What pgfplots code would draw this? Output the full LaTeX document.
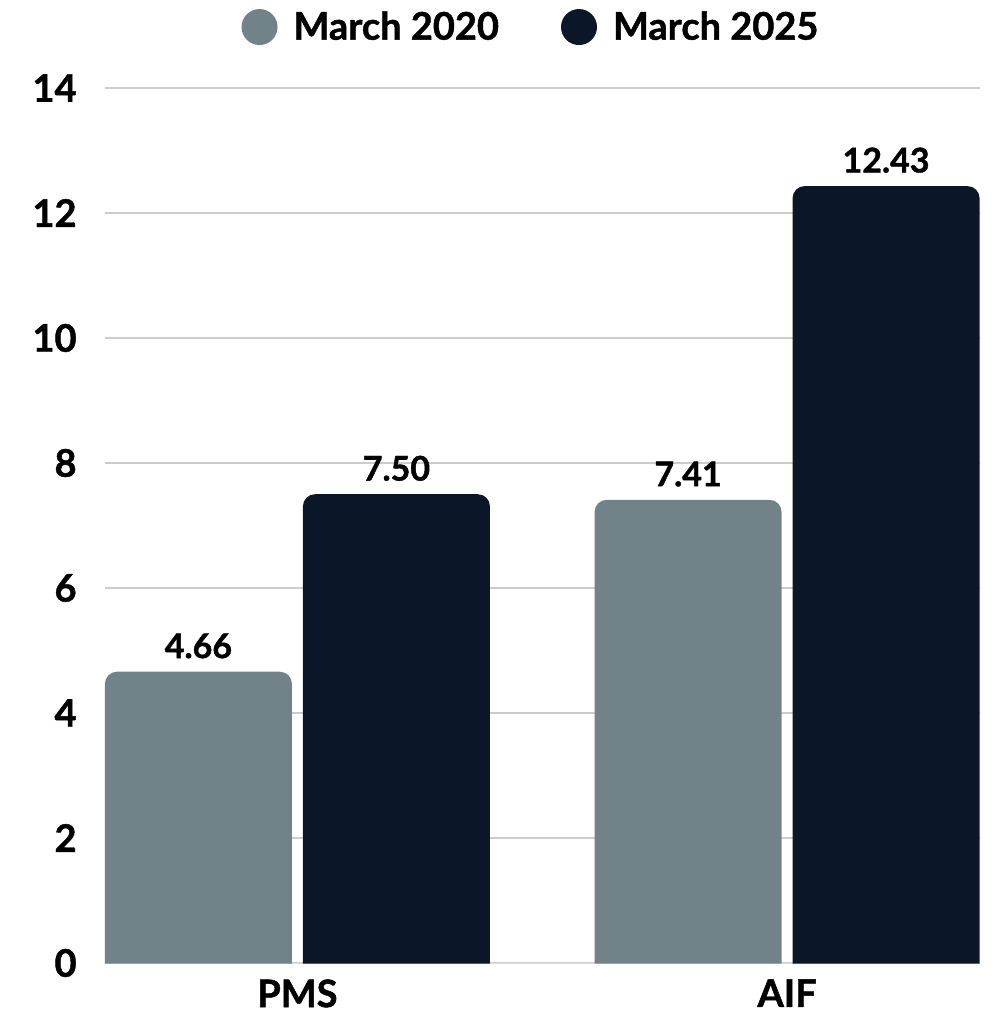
\documentclass[border=0pt]{standalone}
\usepackage{fontspec}
\setmainfont{Lato}[BoldFeatures={FakeBold=1.2}]
\usepackage{pgfplots}
\pgfplotsset{compat=1.18}
\usepackage{pgfplotstable}
\definecolor{cgrey}{HTML}{718389}
\definecolor{cdark}{HTML}{0B1729}
\definecolor{cgrid}{HTML}{CCCCCC}

\pgfplotstableread{
x v lbl
0 4.66 4.66
1 7.41 7.41
}\tmarA
\pgfplotstableread{
x v lbl
0 7.50 7.50
1 12.43 12.43
}\tmarB

\begin{document}
\begin{tikzpicture}
\path[use as bounding box] (-52.5pt,-25.5pt) rectangle (443.5pt,481.5pt);
\clip (-60pt,-0.3pt) rectangle (450pt,490pt)
      (-60pt,-7pt) rectangle (450pt,-30pt)
      (-60pt,-7pt) rectangle (-1pt,-0.3pt);
\begin{axis}[
  at={(0pt,-6.25pt)}, anchor=south west,
  scale only axis, width=437.5pt, height=443.75pt,
  y coord trafo/.code={\pgfmathparse{#1+1}},
  y coord inv trafo/.code={\pgfmathparse{#1-1}},
  xmin=-0.393, xmax=1.394, ymin=-0.2, ymax=14,
  xtick={0,1}, xticklabels={PMS,AIF},
  ytick={0,2,...,14},
  ymajorgrids, grid style={cgrid, line width=0.6pt},
  axis line style={draw=none},
  major tick length=0pt,
  tick label style={font=\fontsize{19}{22}\selectfont\bfseries},
  yticklabel style={anchor=east, inner sep=0pt, xshift=-14pt},
  xticklabel style={anchor=north, inner sep=0pt, yshift=-1.75pt},
  /pgf/number format/assume math mode=true,
  legend style={font=\fontsize{19}{22}\selectfont\bfseries, draw=none, fill=none,
    legend columns=2, at={(0.488,1.0687)}, anchor=center,
    /tikz/every odd column/.append style={column sep=6pt},
    /tikz/every even column/.append style={column sep=29pt}},
  legend cell align=left,
]
\addplot[ybar, bar width=93.5pt, bar shift=-49.5pt, fill=cgrey, draw=none, rounded corners=6pt,
  point meta=explicit symbolic, nodes near coords,
  nodes near coords style={font=\fontsize{17}{20}\selectfont\bfseries, anchor=south, inner sep=0pt, yshift=6.5pt, xshift=-49.5pt, text=black},
  legend image code/.code={\fill[cgrey] (9pt,0pt) circle (9pt);}]
  table[x=x,y=v,meta=lbl] {\tmarA};
\addlegendentry{March 2020}
\addplot[ybar, bar width=93.5pt, bar shift=49.5pt, fill=cdark, draw=none, rounded corners=6pt,
  point meta=explicit symbolic, nodes near coords,
  nodes near coords style={font=\fontsize{17}{20}\selectfont\bfseries, anchor=south, inner sep=0pt, yshift=6.5pt, xshift=49.5pt, text=black},
  legend image code/.code={\fill[cdark] (9pt,0pt) circle (9pt);}]
  table[x=x,y=v,meta=lbl] {\tmarB};
\addlegendentry{March 2025}
\end{axis}
\end{tikzpicture}
\end{document}
